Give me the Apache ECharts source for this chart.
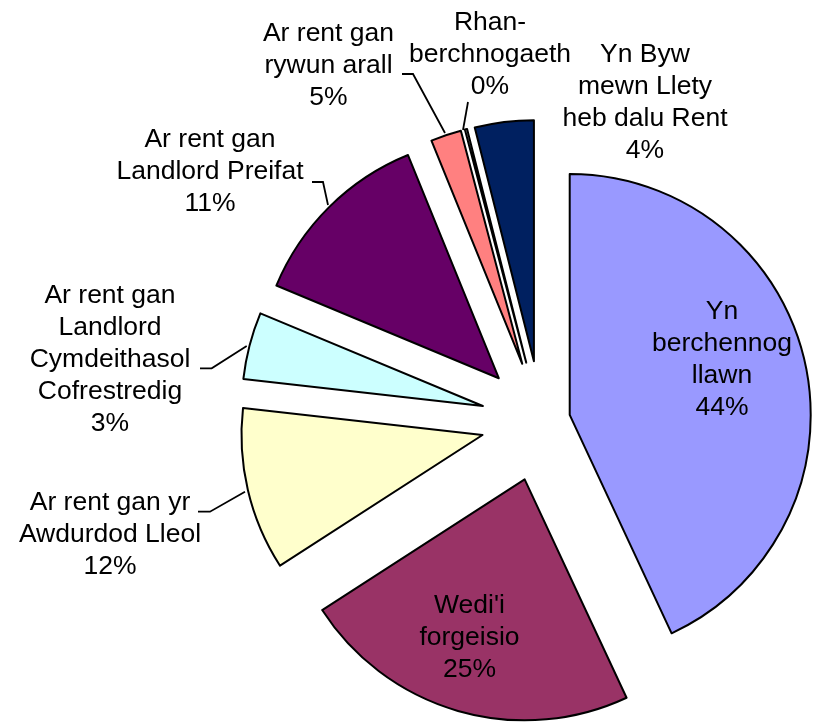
<!DOCTYPE html>
<html>
<head>
<meta charset="utf-8">
<script src="https://cdn.jsdelivr.net/npm/echarts@6/dist/echarts.min.js"></script>
<style>
html,body{margin:0;padding:0;background:#ffffff;}
#chart{width:821px;height:724px;}
</style>
</head>
<body>
<div id="chart"></div>
<script>
// ---- data ----
const categories = [
  'Yn\nberchennog\nllawn',
  "Wedi'i\nforgeisio",
  'Ar rent gan yr\nAwdurdod Lleol',
  'Ar rent gan\nLandlord\nCymdeithasol\nCofrestredig',
  'Ar rent gan\nLandlord Preifat',
  'Ar rent gan\nrywun arall',
  'Rhan-\nberchnogaeth',
  'Yn Byw\nmewn Llety\nheb dalu Rent'
];
// slice sizes as drawn (share of the circle, %)
const values = [43.06, 22.83, 10.92, 4.49, 12.57, 2.05, 0.15, 3.95];
// percentage labels as printed on the chart
const percentLabels = ['44%', '25%', '12%', '3%', '11%', '5%', '0%', '4%'];

// ---- styles / layout ----
const colors = ['#9999FF', '#993366', '#FFFFCC', '#CCFFFF', '#660066', '#FF8080', '#D0D0D0', '#002060'];
const CENTER = [541.4, 421.2];
const RADIUS = 241;
const labelAnchors = [
  [722, 360], [469.5, 638], [110, 535], [110, 360],
  [210, 172], [328.5, 66], [490, 55], [645, 102.5]
];
const leaderLines = [
  null,
  null,
  [[198, 511.7], [210, 511.7], [245, 491.7]],
  [[200, 368.3], [211.7, 368.3], [246.7, 346]],
  [[312, 182], [323, 182], [328, 205]],
  [[402, 74], [413, 74], [445, 133]],
  [[468, 102], [468, 102], [463, 130]],
  null
];

const HIDDEN = 'rgba(0,0,0,0)';
const border = { borderColor: '#000', borderWidth: 2 };

function sliceData(visibleFn) {
  return values.map((v, i) => {
    const vis = visibleFn(i);
    return {
      value: v,
      name: categories[i],
      selected: vis,
      itemStyle: vis ? Object.assign({ color: colors[i] }, border) : { color: HIDDEN, borderWidth: 0 },
      select: { itemStyle: vis ? Object.assign({ color: colors[i] }, border) : { color: HIDDEN, borderWidth: 0 } }
    };
  });
}

const common = {
  type: 'pie',
  center: CENTER,
  radius: RADIUS,
  startAngle: 90,
  clockwise: true,
  selectedMode: 'multiple',
  label: { show: false },
  labelLine: { show: false },
  emphasis: { disabled: true },
  silent: true,
  avoidLabelOverlap: false
};

const chart = echarts.init(document.getElementById('chart'), null, { renderer: 'canvas' });
chart.setOption({
  animation: false,
  backgroundColor: '#ffffff',
  series: [
    Object.assign({}, common, {
      name: 'main',
      selectedOffset: 29,
      data: sliceData(i => i === 0)
    }),
    Object.assign({}, common, {
      name: 'rest',
      selectedOffset: 60.5,
      data: sliceData(i => i !== 0)
    }),
    Object.assign({}, common, {
      name: 'labels',
      selectedMode: false,
      data: values.map((v, i) => ({
        value: v,
        name: categories[i],
        itemStyle: { color: HIDDEN, borderWidth: 0 },
        labelLine: { show: !!leaderLines[i] }
      })),
      label: {
        show: true,
        position: 'outside',
        formatter: p => p.name + '\n' + percentLabels[p.dataIndex],
        color: '#000',
        fontFamily: '"Liberation Sans", Arial, sans-serif',
        fontSize: 26.5,
        lineHeight: 32,
        align: 'center',
        verticalAlign: 'middle'
      },
      labelLine: {
        show: true,
        lineStyle: { color: '#000', width: 1.8 }
      },
      labelLayout: function (params) {
        const i = params.dataIndex;
        const out = {
          x: labelAnchors[i][0],
          y: labelAnchors[i][1],
          align: 'center',
          verticalAlign: 'middle'
        };
        if (leaderLines[i]) out.labelLinePoints = leaderLines[i];
        return out;
      }
    })
  ]
});
</script>
</body>
</html>
